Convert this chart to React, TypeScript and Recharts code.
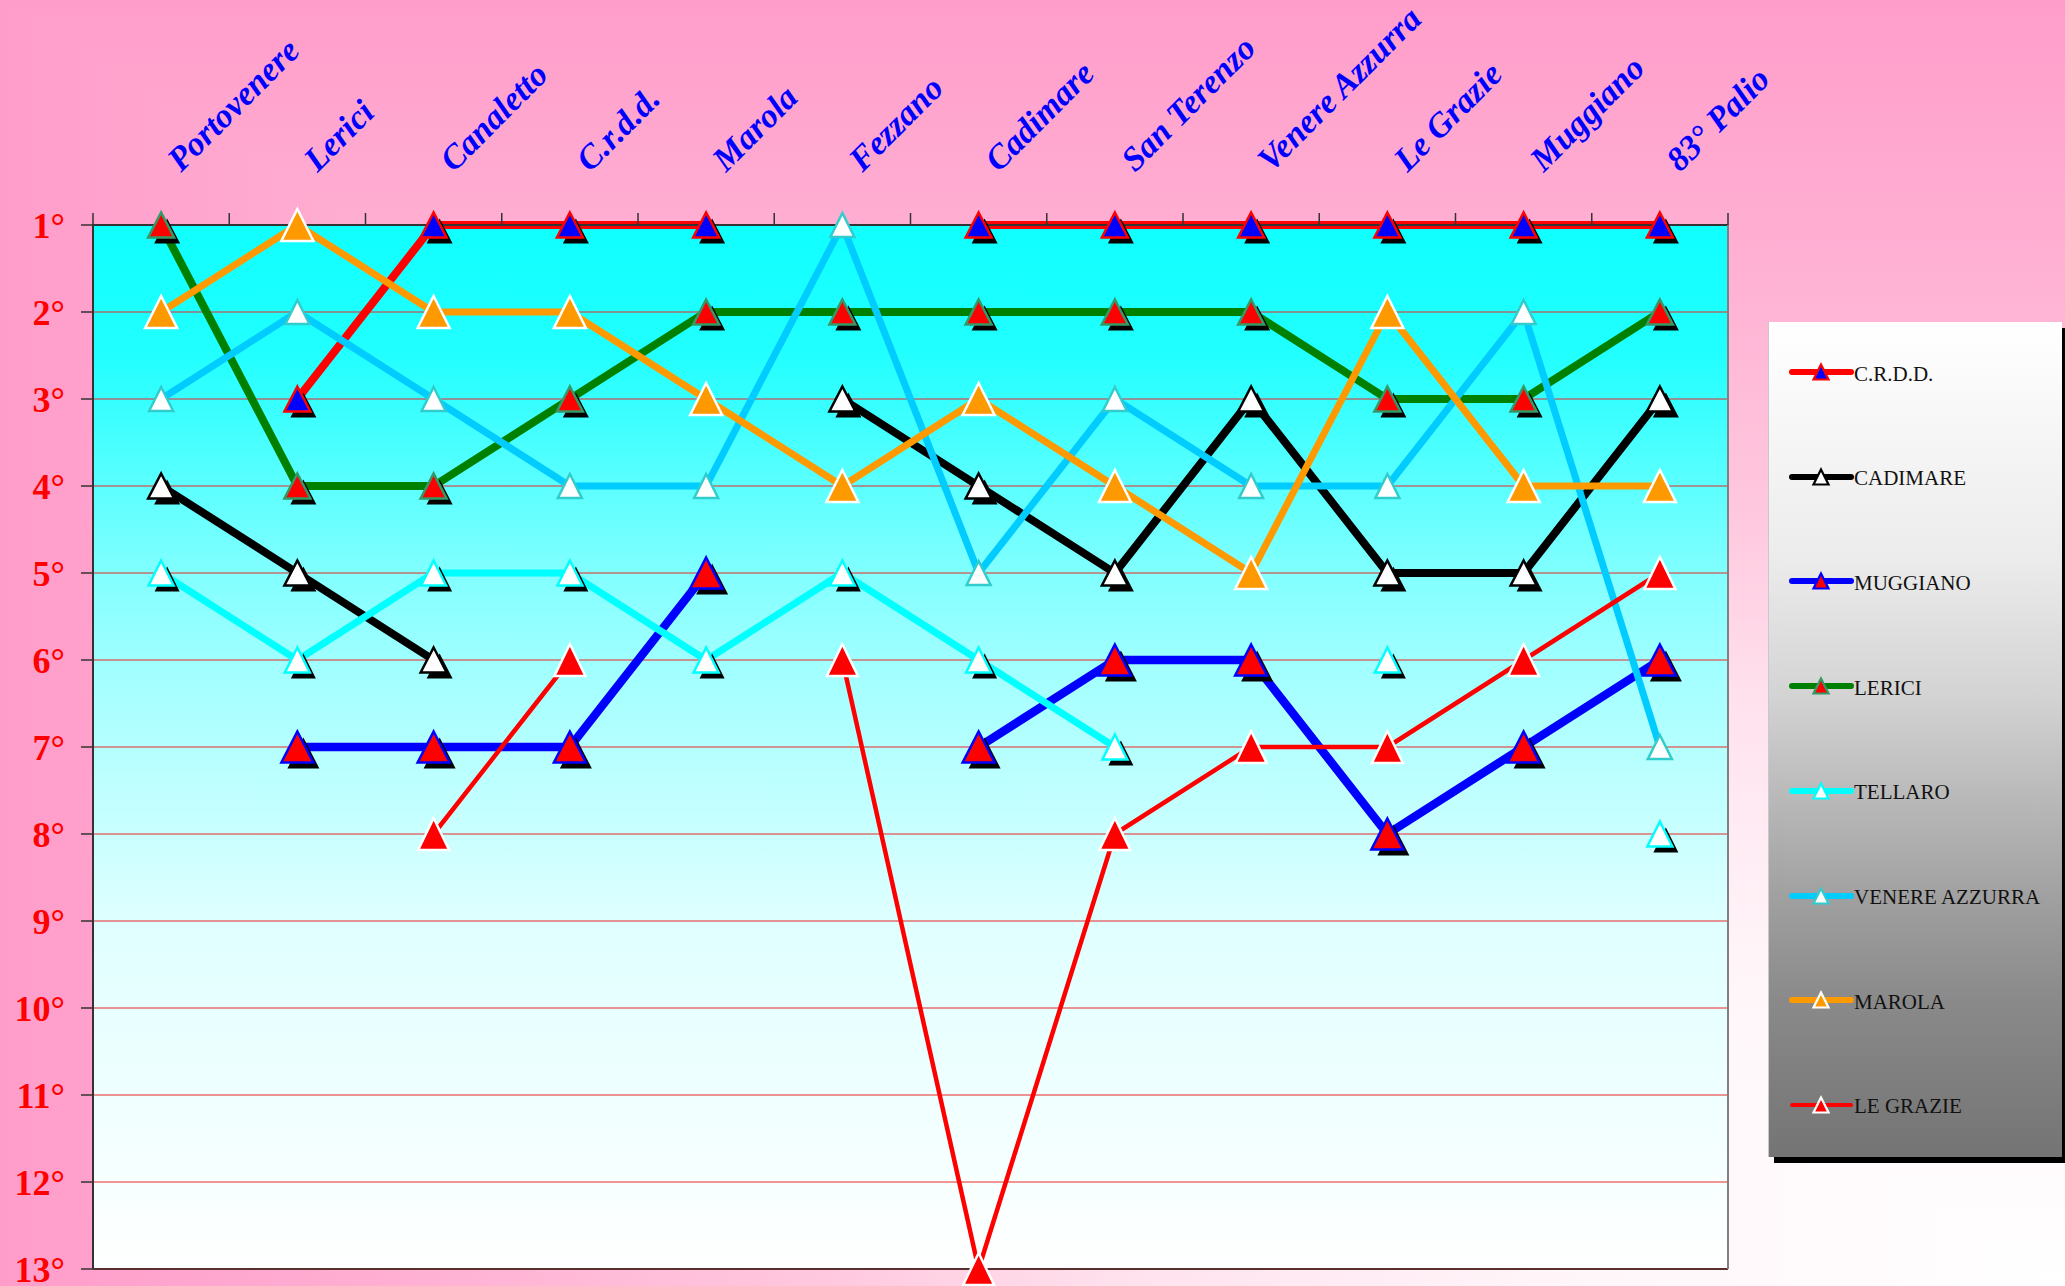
import React from 'react';
import { LineChart, Line, XAxis, YAxis, CartesianGrid, Legend } from 'recharts';

const categories = ['Portovenere', 'Lerici', 'Canaletto', 'C.r.d.d.', 'Marola', 'Fezzano', 'Cadimare', 'San Terenzo', 'Venere Azzurra', 'Le Grazie', 'Muggiano', '83° Palio'];

const crdd = [null, 3, 1, 1, 1, null, 1, 1, 1, 1, 1, 1];
const cadimare = [4, 5, 6, null, null, 3, 4, 5, 3, 5, 5, 3];
const muggiano = [null, 7, 7, 7, 5, null, 7, 6, 6, 8, 7, 6];
const lerici = [1, 4, 4, 3, 2, 2, 2, 2, 2, 3, 3, 2];
const tellaro = [5, 6, 5, 5, 6, 5, 6, 7, null, 6, null, 8];
const venere = [3, 2, 3, 4, 4, 1, 5, 3, 4, 4, 2, 7];
const marola = [2, 1, 2, 2, 3, 4, 3, 4, 5, 2, 4, 4];
const legrazie = [null, null, 8, 6, null, 6, 13, 8, 7, 7, 6, 5];

const yTicks = [1, 2, 3, 4, 5, 6, 7, 8, 9, 10, 11, 12, 13];

const seriesNames = ['C.R.D.D.', 'CADIMARE', 'MUGGIANO', 'LERICI', 'TELLARO', 'VENERE AZZURRA', 'MAROLA', 'LE GRAZIE'];
const seriesKeys = ['crdd', 'cadimare', 'muggiano', 'lerici', 'tellaro', 'venere', 'marola', 'legrazie'];
const seriesValues = [crdd, cadimare, muggiano, lerici, tellaro, venere, marola, legrazie];

const data = categories.map((cat, i) => {
  const row: any = { cat };
  seriesKeys.forEach((k, j) => { row[k] = seriesValues[j][i]; });
  return row;
});

type SeriesStyle = {
  line: string; width: number; fill: string; stroke: string; sw: number;
  w: number; h: number; shadow: boolean; legendWidth: number;
};

const styles: SeriesStyle[] = [
  { line: '#ff0000', width: 8, fill: '#0000ff', stroke: '#ff0000', sw: 2.5, w: 26, h: 25, shadow: true, legendWidth: 6 },
  { line: '#000000', width: 8, fill: '#ffffff', stroke: '#000000', sw: 2.5, w: 26, h: 25, shadow: true, legendWidth: 6 },
  { line: '#0000ff', width: 8.5, fill: '#ff0000', stroke: '#0000ff', sw: 2.5, w: 32, h: 31, shadow: true, legendWidth: 6 },
  { line: '#008000', width: 8, fill: '#ff0000', stroke: '#339966', sw: 2.5, w: 26, h: 25, shadow: true, legendWidth: 6 },
  { line: '#00ffff', width: 7, fill: '#ffffff', stroke: '#00ffff', sw: 2.5, w: 25, h: 25, shadow: true, legendWidth: 6 },
  { line: '#00ccff', width: 7, fill: '#ffffff', stroke: '#33cccc', sw: 2.5, w: 24, h: 24, shadow: false, legendWidth: 6 },
  { line: '#ff9900', width: 7, fill: '#ff9900', stroke: '#ffffff', sw: 2.5, w: 32, h: 32, shadow: false, legendWidth: 6 },
  { line: '#ff0000', width: 4.5, fill: '#ff0000', stroke: '#ffffff', sw: 2.5, w: 31, h: 32, shadow: false, legendWidth: 4 },
];

const CHART_W = 2065;
const CHART_H = 1286;
const PLOT_LEFT = 93;
const PLOT_RIGHT_GAP = 337;
const PLOT_W = CHART_W - PLOT_LEFT - PLOT_RIGHT_GAP;

const tri = (cx: number, cy: number, w: number, h: number) =>
  `M${cx},${cy - h / 2} L${cx + w / 2},${cy + h / 2} L${cx - w / 2},${cy + h / 2} Z`;

const makeDot = (s: SeriesStyle, key: string) => (props: any) => {
  const { cx, cy, index, payload } = props;
  const k = `${key}-dot-${index}`;
  if (cx == null || cy == null || Number.isNaN(cx) || Number.isNaN(cy) || !payload || payload[key] == null) {
    return <g key={k} />;
  }
  return (
    <g key={k}>
      {s.shadow && <path d={tri(cx + 6, cy + 6, s.w, s.h)} fill="#000" />}
      <path d={tri(cx, cy, s.w, s.h)} fill={s.fill} stroke={s.stroke} strokeWidth={s.sw} strokeLinejoin="miter" />
    </g>
  );
};

const XTick = (props: any) => {
  const { x, y, payload, index } = props;
  const band = PLOT_W / categories.length;
  const lx = x + 20;
  const ly = y - 40;
  return (
    <g>
      <line x1={x - band / 2} x2={x - band / 2} y1={y} y2={y + 12} stroke="#333" strokeWidth={1.5} />
      {index === categories.length - 1 && (
        <line x1={x + band / 2} x2={x + band / 2} y1={y} y2={y + 12} stroke="#333" strokeWidth={1.5} />
      )}
      <text
        x={lx}
        y={ly}
        transform={`rotate(-45 ${lx} ${ly})`}
        textAnchor="start"
        fill="#0000ff"
        fontFamily="'Liberation Serif', 'Times New Roman', serif"
        fontWeight="bold"
        fontStyle="italic"
        fontSize={34}
      >
        {payload.value}
      </text>
    </g>
  );
};

const LEGEND_LEFT = 1768;
const LEGEND_TOP = 322;
const LEGEND_W = 294;
const LEGEND_H = 835;

const renderLegend = () => (
  <div
    style={{
      position: 'relative',
      width: LEGEND_W,
      height: LEGEND_H,
      boxSizing: 'border-box',
      background: 'linear-gradient(to bottom, #ffffff 0%, #ececec 28%, #d3d3d3 45%, #bbbbbb 56%, #a0a0a0 69%, #8a8a8a 81%, #747474 100%)',
      boxShadow: '6px 6px 0 #000',
      borderLeft: '1px solid #c8c8c8',
    }}
  >
    {seriesNames.map((name, i) => {
      const s = styles[i];
      return (
        <div
          key={name}
          style={{ position: 'absolute', left: 0, top: 50 + i * 104.7 - 14, height: 28, display: 'flex', alignItems: 'center' }}
        >
          <svg width={85} height={28} style={{ display: 'block' }}>
            <line x1={23} x2={82} y1={14} y2={14} stroke={s.line} strokeWidth={s.legendWidth} strokeLinecap="round" />
            <path d={tri(52, 14, 15, 15)} fill={s.fill} stroke={s.stroke} strokeWidth={2.2} />
          </svg>
          <span style={{ fontFamily: "'Liberation Serif', 'Times New Roman', serif", fontSize: 21, color: '#111', whiteSpace: 'nowrap', marginTop: 4 }}>
            {name}
          </span>
        </div>
      );
    })}
  </div>
);

const pinkStops = '#ffffff 0%, #fff5f9 25%, #ffe2ee 45%, #ffc8de 60%, #ffb0d3 80%, #ff9dca 100%';

export default function App() {
  return (
    <div
      style={{
        width: CHART_W,
        height: CHART_H,
        position: 'relative',
        overflow: 'hidden',
        backgroundImage: `linear-gradient(to left, ${pinkStops}), linear-gradient(to top, ${pinkStops})`,
        backgroundBlendMode: 'darken',
      }}
    >
      <style>{'html,body{margin:0;padding:0;}'}</style>
      <LineChart width={CHART_W} height={CHART_H} data={data} margin={{ top: 0, right: 0, bottom: 16, left: 0 }}>
        <defs>
          <linearGradient id="plotBg" x1="0" y1="0" x2="0" y2="1">
            <stop offset="0%" stopColor="#10ffff" />
            <stop offset="12%" stopColor="#20ffff" />
            <stop offset="33%" stopColor="#80ffff" />
            <stop offset="42%" stopColor="#a0ffff" />
            <stop offset="67%" stopColor="#e0ffff" />
            <stop offset="100%" stopColor="#ffffff" />
          </linearGradient>
        </defs>
        <CartesianGrid vertical={false} stroke="#e82828" strokeWidth={1} fill="url(#plotBg)" fillOpacity={1} />
        <XAxis
          dataKey="cat"
          orientation="top"
          height={225}
          interval={0}
          scale="band"
          tickLine={false}
          tickSize={12}
          tickMargin={0}
          axisLine={{ stroke: '#333333', strokeWidth: 2 }}
          tick={(p: any) => <XTick {...p} />}
        />
        <XAxis
          xAxisId="b"
          dataKey="cat"
          orientation="bottom"
          height={1}
          scale="band"
          tick={false}
          tickLine={false}
          axisLine={{ stroke: '#5a2f2f', strokeWidth: 2 }}
        />
        <YAxis
          type="number"
          domain={[1, 13]}
          reversed
          ticks={yTicks}
          interval={0}
          width={PLOT_LEFT}
          tickSize={12}
          tickMargin={16}
          tickLine={{ stroke: '#333333', strokeWidth: 1.5 }}
          axisLine={{ stroke: '#333333', strokeWidth: 2 }}
          tick={{ fill: '#ff0000', fontSize: 36, fontWeight: 'bold', fontFamily: "'Liberation Serif', 'Times New Roman', serif" }}
          tickFormatter={(v: number) => `${v}°`}
          allowDecimals={false}
        />
        <YAxis
          yAxisId="r"
          orientation="right"
          type="number"
          domain={[1, 13]}
          width={PLOT_RIGHT_GAP}
          tick={false}
          tickLine={false}
          axisLine={{ stroke: '#808080', strokeWidth: 2 }}
        />
        {seriesKeys.map((key, i) => (
          <Line
            key={key}
            dataKey={key}
            name={seriesNames[i]}
            stroke={styles[i].line}
            strokeWidth={styles[i].width}
            strokeLinejoin="round"
            dot={makeDot(styles[i], key)}
            activeDot={false}
            connectNulls={false}
            isAnimationActive={false}
          />
        ))}
        <Legend
          layout="vertical"
          align="center"
          verticalAlign="middle"
          width={LEGEND_W}
          height={LEGEND_H}
          wrapperStyle={{ left: LEGEND_LEFT, top: LEGEND_TOP, width: LEGEND_W, height: LEGEND_H }}
          content={renderLegend}
        />
      </LineChart>
    </div>
  );
}
